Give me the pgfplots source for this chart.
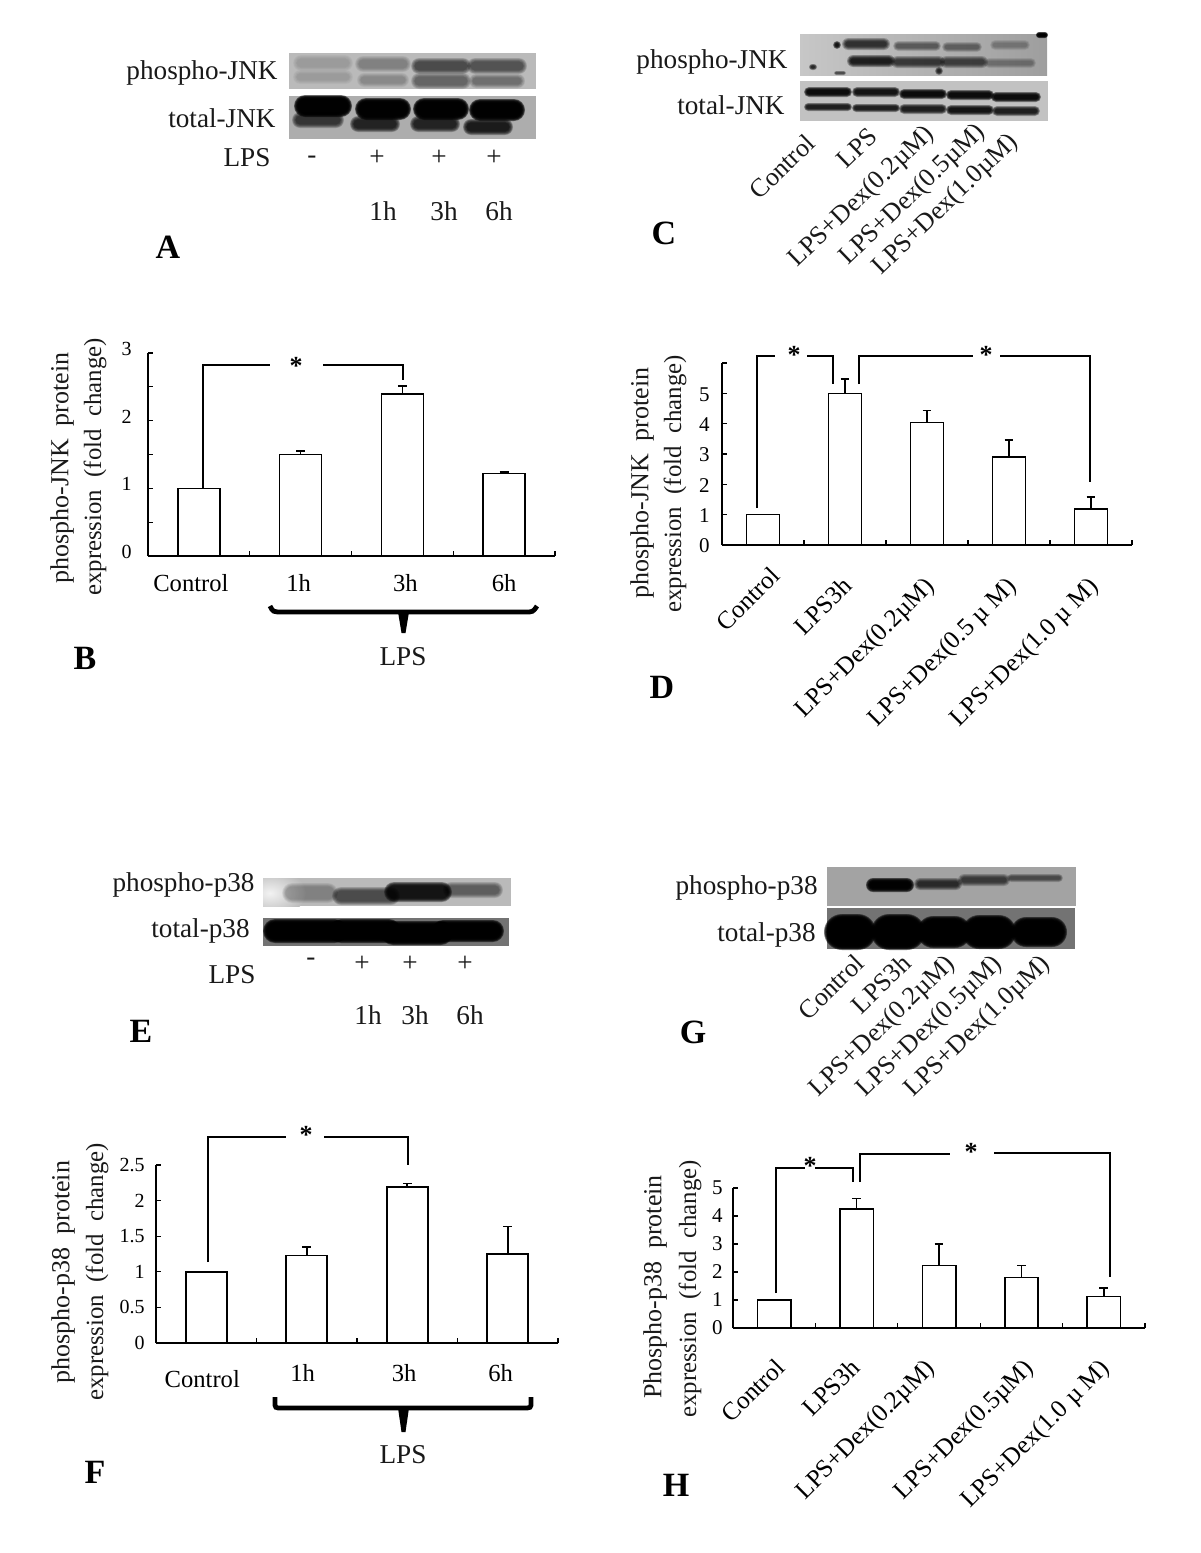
\documentclass[border=0pt]{standalone}
\usepackage{fontspec}
\setmainfont{Liberation Serif}
\usepackage{pgfplots}
\pgfplotsset{compat=1.18}

% one picture unit = one pixel of the 1200x1553 reference
% a soft blot band: nested rounded boxes, each adding a little density
\newcommand{\band}[5]{%
  \pgfmathsetmacro\lay{1-(1-0.985*#5)^(1/6)}%
  \foreach \f in {0,0.12,0.24,0.36,0.48,0.6} {%
    \pgfmathsetmacro\ins{\f*min(#4,6)}%
    \pgfmathsetmacro\rad{(#4-\ins)*0.5}%
    \fill[black,opacity=\lay,rounded corners=\rad pt] ({#1-#3+\ins},{#2-#4+\ins}) rectangle ({#1+#3-\ins},{#2+#4-\ins});
  }}
\newcommand{\lanes}[2]{\foreach \cx/\cy/\rx/\ry/\op in {#2} {\band{\cx}{\cy}{\rx}{\ry}{\op}}}
% move a slanted tick label sideways by keeping its baseline end in place
\newcommand{\tl}[2]{\raisebox{-#1}[0pt][0pt]{#2\kern-#1}}

\pgfplotsset{
  panel/.style={
    scale only axis, ybar, xmin=-0.5, ymin=0,
    axis x line=bottom, axis y line=left, axis line style={-,line width=0.8pt},
    tick align=inside, tick style={black,line width=0.6pt},
    major tick length=2.5pt, minor tick length=2.5pt,
    major x tick style={draw=none},
    clip=false, anchor=south west,
    yticklabel style={anchor=east,inner sep=0pt,font=\fontsize{10}{12}\selectfont},
  },
  upright/.style={xticklabel style={anchor=base,inner sep=0pt,yshift=#1,font=\fontsize{12.3}{14}\selectfont}},
  slanted/.style={xticklabel style={rotate=45,anchor=base east,inner sep=0pt,xshift=-12pt,yshift=#1,font=\fontsize{12.6}{15}\selectfont}},
}
\newcommand{\bars}[1]{\addplot[draw=black,fill=white,line width=0.8pt,
    error bars/.cd,y dir=plus,y explicit,
    error bar style={black,line width=0.8pt,solid},
    error mark options={black,line width=0.8pt,mark size=2.2pt,rotate=90}]
    coordinates {#1};}

\tikzset{
  tx/.style={inner sep=0pt,font=\fontsize{13.6}{15}\selectfont,text=black!90},
  yl/.style={inner sep=0pt,rotate=90,font=\fontsize{12.4}{15}\selectfont,text=black!90},
  yk/.style={inner sep=0pt,rotate=90,font=\fontsize{13}{15}\selectfont,text=black!90},
  rl/.style={inner sep=0pt,rotate=44,font=\fontsize{13}{15}\selectfont,text=black!90},
  pan/.style={inner sep=0pt,font=\fontsize{17}{19}\selectfont\bfseries},
  st/.style={inner sep=0pt,font=\fontsize{13}{13}\selectfont\bfseries},
  br/.style={line width=0.8pt},
}

\begin{document}
\begin{tikzpicture}[x=0.5pt,y=-0.5pt]
\useasboundingbox (0,0) rectangle (1200,1553);
\coordinate (oB) at (148,556);
\coordinate (oD) at (722,545);
\coordinate (oF) at (156,1343);
\coordinate (oH) at (733,1328);

% ---------- A ----------
\fill[black!27] (289,53) rectangle (536,89);
\lanes{}{323/63/30/8/.15, 323/77/30/7/.15, 383/64/28/8/.3, 383/80/26/7/.25, 441/66/30/8/.6, 441/81/30/8/.45, 497/66/30/8/.55, 497/81/28/7/.4}
\fill[black!32] (289,96) rectangle (536,139);
\lanes{}{323/106/29/11/1, 318/120/26/8/.7, 383/109/28/11/1, 375/124/25/8/.8, 441/109/28/11/1, 435/124/25/8/.8, 497/110/28/11/1, 488/127/25/8/.85}
\node[tx,anchor=east] at (278,73) {phospho-JNK};
\node[tx,anchor=east] at (276,118) {total-JNK};
\node[tx] at (247,158) {LPS};
\node[tx] at (312,160) {-};
\foreach \a in {377,439,494} \node[tx] at (\a,158) {+};
\foreach \a/\b in {383/1h,444/3h,499/6h} \node[tx] at (\a,211) {\b};
\node[pan] at (168,247) {A};

% ---------- C ----------
\shade[left color=black!22,right color=black!38] (800,34) rectangle (1047,75);
\lanes{}{866/44/24/6/.75, 871/61/24/6/.85, 917/46/24/5/.5, 918/62/27/6/.7, 962/47/20/5/.45, 964/62/24/6/.65, 1010/45/20/5/.3, 1010/63/26/5/.35}
\lanes{}{837/45/4/4/.9, 813/67/4/3/.8, 939/71/4/4/.8, 1042/35/6/3/1, 840/73/6/2/.6}
\fill[black!24] (800,81) rectangle (1048,121);
\lanes{}{828/92/24/5/.95, 876/92/24/5/.9, 923/94/24/5/.95, 970/95/24/5/.95, 1016/97/25/5/.95, 828/107/24/4/.85, 876/108/24/4/.85, 923/109/24/5/.85, 970/110/24/5/.9, 1016/111/24/5/.85}
\node[tx,anchor=east] at (788,62) {phospho-JNK};
\node[tx,anchor=east] at (785,105) {total-JNK};
\node[rl] at (782,167) {Control};
\node[rl] at (857,148) {LPS};
\node[rl] at (862,197) {LPS+Dex(0.2µM)};
\node[rl] at (913,195) {LPS+Dex(0.5µM)};
\node[rl] at (946,205) {LPS+Dex(1.0µM)};
\node[pan] at (664,233) {C};

% ---------- B ----------
\begin{axis}[panel,upright=-17.5pt,at={(oB)},width=203.5pt,height=101.5pt,xmax=3.5,ymax=3,
  bar width=21pt,
  xtick={0,1,2,3},minor xtick={0.5,1.5,2.5,3.5},
  xticklabels={Control\kern8pt,1h\kern2pt,\kern3pt 3h,6h},
  ytick={0,1,2,3},minor ytick={0.5,1.5,2.5},yticklabels={0,1,2,3},
  yticklabel style={xshift=-8pt,yshift=2pt}]
\bars{(0,1.0) (1,1.5) +- (0,0.055) (2,2.39) +- (0,0.12) (3,1.22) +- (0,0.025)}
\end{axis}
\node[yk] at (62,468) {phospho-JNK\ \ protein};
\node[yl] at (95,467) {expression\ \ (fold\ \ change)};
\draw[br] (203,488) -- (203,365) -- (270,365);
\draw[br] (323,365) -- (403,365) -- (403,380);
\node[st] at (296,366) {*};
\draw[line width=2.4pt] (270,606) .. controls (273,612) .. (283,612) -- (525,612) .. controls (533,612) .. (537,606);
\fill (398,612) -- (409,612) -- (405.5,633) -- (401.5,633) -- cycle;
\node[tx] at (403,657) {LPS};
\node[pan] at (85,658) {B};

% ---------- D ----------
\begin{axis}[panel,slanted=-18pt,at={(oD)},width=205pt,height=91pt,xmax=4.5,ymax=6,
  bar width=16.5pt,
  xtick={0,1,2,3,4},minor xtick={0.5,1.5,2.5,3.5,4.5},
  xticklabels={Control\kern-7pt,LPS3h,LPS+Dex(0.2µM),LPS+Dex(0.5 µ M),LPS+Dex(1.0 µ M)},
  ytick={0,1,2,3,4,5},minor ytick={6},yticklabels={0,1,2,3,4,5},
  yticklabel style={xshift=-6pt,yshift=-0.5pt,font=\fontsize{10.5}{12}\selectfont}]
\bars{(0,1.0) (1,5.0) +- (0,0.48) (2,4.04) +- (0,0.40) (3,2.9) +- (0,0.57) (4,1.18) +- (0,0.40)}
\end{axis}
\node[yk] at (642,483) {phospho-JNK\ \ protein};
\node[yl] at (675,484) {expression\ \ (fold\ \ change)};
\draw[br] (757,508) -- (757,356) -- (775,356);
\draw[br] (807,356) -- (833,356) -- (833,384);
\draw[br] (859,384) -- (859,356) -- (973,356);
\draw[br] (1000,356) -- (1090,356) -- (1090,482);
\node[st] at (794,355) {*};
\node[st] at (986,355) {*};
\node[pan] at (662,687) {D};

% ---------- E ----------
\fill[black!27] (263,878) rectangle (511,906);
\begin{scope}
\clip (263,878) rectangle (511,906);
\shade[inner color=black!5,outer color=black!27] (270,893) ellipse (36 and 24);
\end{scope}
\lanes{}{310/893/28/10/.3, 366/896/34/9/.6, 418/892/34/10/.9, 473/890/30/8/.5}
\fill[black!55] (263,918) rectangle (509,946);
\lanes{}{305/931/42/12/1, 365/931/36/12/1, 417/933/36/12/1, 468/931/36/11/1}
\node[tx,anchor=east] at (255,885) {phospho-p38};
\node[tx,anchor=east] at (250,931) {total-p38};
\node[tx] at (232,975) {LPS};
\node[tx] at (311,962) {-};
\foreach \a in {362,410,465} \node[tx] at (\a,964) {+};
\foreach \a/\b in {368/1h,415/3h,470/6h} \node[tx] at (\a,1015) {\b};
\node[pan] at (141,1031) {E};

% ---------- G ----------
\fill[black!36] (827,867) rectangle (1076,906);
\lanes{}{890/885/24/7/1, 938/884/24/6/.75, 984/880/26/6/.65, 1035/878/28/4/.55}
\fill[black!55] (827,908) rectangle (1075,949);
\lanes{}{850/932/26/18/1, 898/932/27/18/1, 944/932/27/16/1, 989/932/27/17/1, 1039/932/28/15/1}
\node[tx,anchor=east] at (818,888) {phospho-p38};
\node[tx,anchor=east] at (816,935) {total-p38};
\node[rl] at (831,987) {Control};
\node[rl] at (881,984) {LPS3h};
\node[rl] at (883,1027) {LPS+Dex(0.2µM)};
\node[rl] at (930,1027) {LPS+Dex(0.5µM)};
\node[rl] at (978,1027) {LPS+Dex(1.0µM)};
\node[pan] at (693,1032) {G};

% ---------- F ----------
\begin{axis}[panel,upright=-19pt,at={(oF)},width=201pt,height=89pt,xmax=3.5,ymax=2.5,
  bar width=20.5pt,
  xtick={0,1,2,3},minor xtick={0.5,1.5,2.5,3.5},
  xticklabels={\raisebox{-3pt}[0pt][0pt]{Control}\kern4pt,1h\kern4pt,3h\kern3pt,6h\kern7pt},
  ytick={0,0.5,1,1.5,2,2.5},yticklabels={0,0.5,1,1.5,2,2.5},
  yticklabel style={xshift=-5.5pt}]
\bars{(0,1.0) (1,1.23) +- (0,0.12) (2,2.195) +- (0,0.045) (3,1.25) +- (0,0.385)}
\end{axis}
\node[yk] at (63,1272) {phospho-p38\ \ protein};
\node[yl] at (97,1272) {expression\ \ (fold\ \ change)};
\draw[br] (208,1262) -- (208,1137) -- (286,1137);
\draw[br] (324,1137) -- (408,1137) -- (408,1165);
\node[st] at (306,1135) {*};
\draw[line width=2.4pt] (275,1397) -- (275,1402) .. controls (275,1408) .. (282,1408) -- (523,1408) .. controls (531,1408) .. (531,1402) -- (531,1397);
\fill (398,1408) -- (409,1408) -- (405.5,1432) -- (401.5,1432) -- cycle;
\node[tx] at (403,1455) {LPS};
\node[pan] at (95,1472) {F};

% ---------- H ----------
\begin{axis}[panel,slanted=-17pt,at={(oH)},width=206pt,height=70pt,xmax=4.5,ymax=5,
  bar width=16.7pt,
  xtick={0,1,2,3,4},minor xtick={0.5,1.5,2.5,3.5,4.5},
  xticklabels={\tl{1.8pt}{Control},\tl{-0.7pt}{LPS3h},\tl{-3.5pt}{LPS+Dex(0.2µM)},\tl{2.1pt}{LPS+Dex(0.5µM)},LPS+Dex(1.0 µ M)},
  ytick={0,1,2,3,4,5},yticklabels={0,1,2,3,4,5},
  yticklabel style={xshift=-5pt,font=\fontsize{10.5}{12}\selectfont}]
\bars{(0,1.0) (1,4.25) +- (0,0.37) (2,2.23) +- (0,0.78) (3,1.81) +- (0,0.42) (4,1.13) +- (0,0.29)}
\end{axis}
\node[yk] at (655,1287) {Phospho-p38\ \ protein};
\node[yl] at (690,1289) {expression\ \ (fold\ \ change)};
\draw[br] (776,1293) -- (776,1168) -- (805,1168);
\draw[br] (815,1168) -- (853,1168) -- (853,1182);
\draw[br] (860,1182) -- (860,1154) -- (950,1154);
\draw[line width=1pt] (994,1153) -- (1110,1153) -- (1110,1277);
\node[st] at (810,1166) {*};
\node[st] at (971,1152) {*};
\node[pan] at (676,1485) {H};
\end{tikzpicture}
\end{document}
